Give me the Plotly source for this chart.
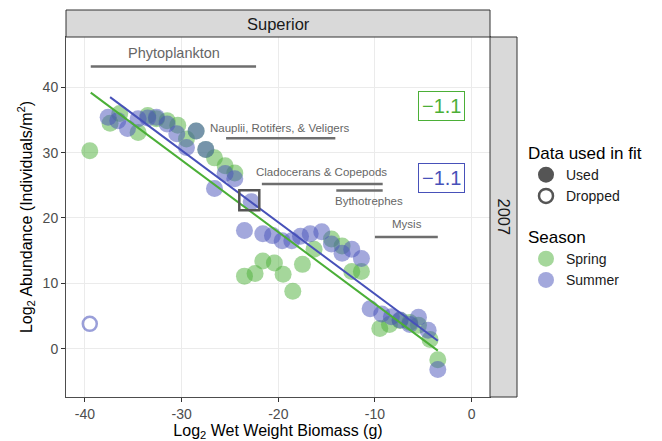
import plotly.graph_objects as go

# ---------------- data ----------------
spring_x = [-39.5, -37.4, -36.4, -34.5, -33.5, -32.6, -31.5, -30.4, -29.5, -28.5, -27.5, -26.6,
            -25.5, -24.5, -23.5, -22.4, -21.6, -20.4, -19.5, -18.5, -17.5, -16.3, -14.5, -13.4,
            -12.4, -11.4, -9.5, -8.5, -7.4, -6.4, -5.5, -4.3, -3.5]
spring_y = [30.3, 34.5, 36.0, 33.1, 35.7, 35.2, 34.9, 34.2, 32.1, 33.3, 30.5, 29.2,
            28.0, 26.9, 11.1, 11.5, 13.4, 13.1, 11.4, 8.8, 12.9, 15.2, 16.8, 15.7,
            11.8, 11.8, 3.1, 3.7, 4.3, 4.0, 3.6, 1.4, -1.7]

summer_x = [-37.6, -36.6, -35.6, -34.5, -33.5, -32.6, -31.5, -30.5, -29.5, -28.5, -27.5, -26.6,
            -25.5, -24.5, -22.8, -23.5, -21.6, -20.6, -19.6, -18.6, -17.7, -16.7, -15.5, -14.5,
            -13.4, -12.4, -11.4, -10.5, -9.3, -8.3, -7.4, -6.4, -5.5, -4.5, -3.5]
summer_y = [35.4, 34.9, 33.7, 35.2, 35.3, 35.4, 34.4, 32.9, 30.8, 33.3, 30.5, 24.5,
            26.8, 26.0, 22.5, 18.1, 17.6, 17.3, 16.5, 16.5, 17.2, 17.6, 17.9, 16.0,
            14.6, 15.2, 13.8, 6.1, 5.3, 4.9, 4.4, 3.7, 4.8, 2.8, -3.2]

dropped_x = [-39.5]
dropped_y = [3.8]

highlight_x = [-23.0]
highlight_y = [22.7]

# fitted lines: slope, intercept, x-range
spring_fit = {"slope": -1.10, "intercept": -4.15, "xmin": -39.4, "xmax": -3.5}
summer_fit = {"slope": -1.10, "intercept": -2.65, "xmin": -37.4, "xmax": -3.5}
slope_label = "\u22121.1"

# taxon size ranges
taxa_names = ["Phytoplankton", "Nauplii, Rotifers, & Veligers", "Cladocerans & Copepods",
              "Bythotrephes", "Mysis"]
taxa_xmin = [-39.4, -25.4, -21.7, -14.0, -10.0]
taxa_xmax = [-22.3, -14.1, -9.2, -9.2, -3.5]
taxa_line_y = [43.2, 32.2, 25.2, 24.2, 17.1]
taxa_label_x = [-30.8, -19.8, -15.5, -10.6, -6.7]
taxa_label_y = [45.2, 33.8, 27.0, 22.6, 19.1]
taxa_font = [14.5, 11.5, 11.5, 11.5, 11.5]

GREEN = "#4BAF37"
BLUE = "#4751B9"
GREEN_A = "rgba(75,175,55,0.5)"
BLUE_A = "rgba(71,81,185,0.5)"

fig = go.Figure()

fig.add_trace(go.Scatter(x=spring_x, y=spring_y, mode="markers", name="Spring",
                         marker=dict(size=17, color=GREEN_A, line=dict(width=0)),
                         legend="legend2"))
fig.add_trace(go.Scatter(x=summer_x, y=summer_y, mode="markers", name="Summer",
                         marker=dict(size=17, color=BLUE_A, line=dict(width=0)),
                         legend="legend2"))
fig.add_trace(go.Scatter(x=dropped_x, y=dropped_y, mode="markers", showlegend=False,
                         marker=dict(size=14, color="rgba(0,0,0,0)", symbol="circle",
                                     line=dict(width=2.5, color="rgba(71,81,185,0.55)"))))

for fit, col in ((spring_fit, GREEN), (summer_fit, BLUE)):
    xs = [fit["xmin"], fit["xmax"]]
    ys = [fit["slope"] * v + fit["intercept"] for v in xs]
    fig.add_trace(go.Scatter(x=xs, y=ys, mode="lines", showlegend=False,
                             line=dict(color=col, width=2)))

fig.add_trace(go.Scatter(x=highlight_x, y=highlight_y, mode="markers", showlegend=False,
                         marker=dict(size=20, symbol="square-open", color="#555555",
                                     line=dict(width=2.5, color="#555555"))))

# legend dummies
fig.add_trace(go.Scatter(x=[None], y=[None], mode="markers", name="Used", legend="legend",
                         marker=dict(size=16, color="#555555")))
fig.add_trace(go.Scatter(x=[None], y=[None], mode="markers", name="Dropped", legend="legend",
                         marker=dict(size=14, color="white", line=dict(width=2.5, color="#555555"))))

# taxa segments + labels
for n, x0, x1, ly, tx, ty, fs in zip(taxa_names, taxa_xmin, taxa_xmax, taxa_line_y,
                                     taxa_label_x, taxa_label_y, taxa_font):
    fig.add_shape(type="line", x0=x0, x1=x1, y0=ly, y1=ly, xref="x", yref="y",
                  line=dict(color="#6e6e6e", width=2.5))
    fig.add_annotation(x=tx, y=ty, text=n, showarrow=False, xref="x", yref="y",
                       font=dict(size=fs, color="#666666"))

# slope labels
fig.add_annotation(x=-3.1, y=37.15, text=slope_label, showarrow=False,
                   font=dict(size=20, color=GREEN), bordercolor=GREEN, borderwidth=1,
                   borderpad=3, bgcolor="white")
fig.add_annotation(x=-3.1, y=26.1, text=slope_label, showarrow=False,
                   font=dict(size=20, color=BLUE), bordercolor=BLUE, borderwidth=1,
                   borderpad=3, bgcolor="white")

XD = 424 / 451
YD = 360 / 387

# facet strips
fig.add_shape(type="rect", xref="paper", yref="paper", x0=0, x1=XD, y0=YD, y1=1,
              fillcolor="#d9d9d9", line=dict(color="#333333", width=1), layer="above")
fig.add_annotation(xref="paper", yref="paper", x=XD / 2, y=(YD + 1) / 2, text="Superior",
                   xanchor="center", yanchor="middle",
                   showarrow=False, font=dict(size=16.5, color="#1a1a1a"))
fig.add_shape(type="rect", xref="paper", yref="paper", x0=XD, x1=1, y0=0, y1=YD,
              fillcolor="#d9d9d9", line=dict(color="#333333", width=1), layer="above")
fig.add_annotation(xref="paper", yref="paper", x=(XD + 1) / 2, y=YD / 2, text="2007",
                   xanchor="center", yanchor="middle",
                   textangle=90, showarrow=False, font=dict(size=16.5, color="#1a1a1a"))

fig.update_layout(
    width=662, height=441,
    margin=dict(l=66, r=145, t=10, b=44, autoexpand=False),
    paper_bgcolor="white", plot_bgcolor="white",
    font=dict(family="Liberation Sans, Arial, sans-serif", color="#1a1a1a"),
    xaxis=dict(domain=[0, XD], range=[-41.96, 1.9], tickvals=[-40, -30, -20, -10, 0],
               ticktext=["-40", "-30", "-20", "-10", "0"], automargin=False,
               showgrid=True, gridcolor="#ebebeb", gridwidth=1, zeroline=False,
               showline=True, linecolor="#4d4d4d", linewidth=1, mirror=True,
               ticks="outside", ticklen=4, tickcolor="#333333",
               tickfont=dict(size=14, color="#4d4d4d"),
               title=dict(text="Log<sub>2</sub> Wet Weight Biomass (g)",
                          font=dict(size=16, color="#000000"), standoff=2)),
    yaxis=dict(domain=[0, YD], range=[-7.4, 47.7], tickvals=[0, 10, 20, 30, 40],
               automargin=False,
               showgrid=True, gridcolor="#ebebeb", gridwidth=1, zeroline=False,
               showline=True, linecolor="#4d4d4d", linewidth=1, mirror=True,
               ticks="outside", ticklen=4, tickcolor="#333333",
               tickfont=dict(size=14, color="#4d4d4d"),
               title=dict(text="Log<sub>2</sub> Abundance (Individuals/m<sup>2</sup>)",
                          font=dict(size=16, color="#000000"), standoff=6)),
    legend=dict(xref="container", yref="container", x=526 / 662, y=1 - 137 / 441,
                xanchor="left", yanchor="top",
                title=dict(text="Data used in fit", font=dict(size=17, color="#000000")),
                font=dict(size=14, color="#1a1a1a"), tracegroupgap=0,
                bgcolor="rgba(0,0,0,0)"),
    legend2=dict(xref="container", yref="container", x=526 / 662, y=1 - 221 / 441,
                 xanchor="left", yanchor="top",
                 title=dict(text="Season", font=dict(size=17, color="#000000")),
                 font=dict(size=14, color="#1a1a1a"), tracegroupgap=0,
                 bgcolor="rgba(0,0,0,0)"),
)

fig.write_html("out.html", config={"displayModeBar": False},
               post_script="document.body.style.margin='0';document.body.style.overflow='hidden';")
